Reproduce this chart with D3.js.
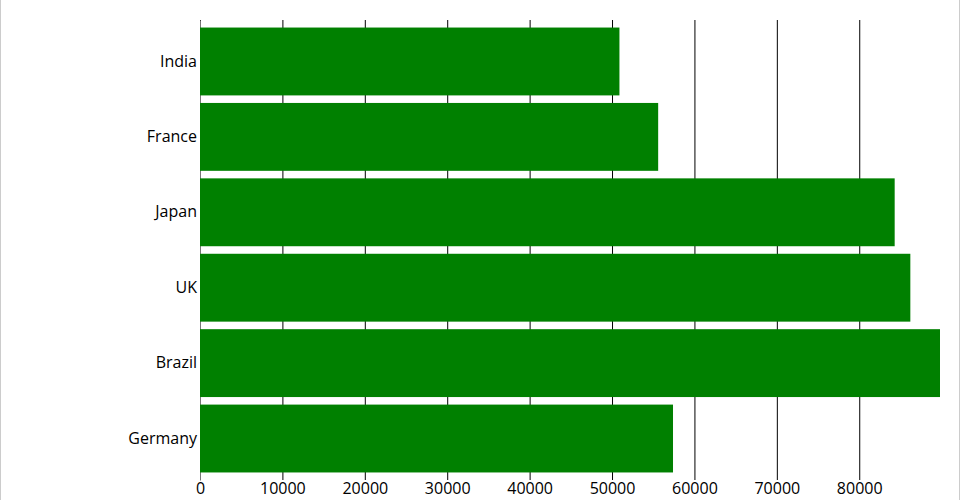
<!DOCTYPE html>
<html>
<head>
<meta charset="utf-8">
<script src="https://cdn.jsdelivr.net/npm/d3@7"></script>
<style>
  html, body { margin: 0; padding: 0; background: #fff; }
  #wrap { position: relative; width: 960px; height: 500px; }
  #frame { position: absolute; left: 0; top: 0; width: 958px; height: 500px;
           border-left: 1px solid #ccc; border-right: 1px solid #ccc; pointer-events: none; }
  svg { display: block; font-family: "Open Sans", sans-serif; }
</style>
</head>
<body>
<div id="wrap"><svg id="chart" width="960" height="500"></svg><div id="frame"></div></div>
<script>
const countries = ["India", "France", "Japan", "UK", "Brazil", "Germany"];
const values = [50900, 55600, 84300, 86200, 89800, 57400];
const xTicks = [0, 10000, 20000, 30000, 40000, 50000, 60000, 70000, 80000];

const margin = {top: 20, right: 20, bottom: 20, left: 200};
const width = 960 - margin.left - margin.right;
const height = 500 - margin.top - margin.bottom;

const data = countries.map((c, i) => ({country: c, value: values[i]}));

const svg = d3.select("#chart");
const g = svg.append("g").attr("transform", `translate(${margin.left},${margin.top})`);

const x = d3.scaleLinear().domain([0, d3.max(values)]).range([0, width]);
const y = d3.scaleBand().domain(countries).range([0, height]).padding(0.1);

const xAxis = g.append("g")
  .attr("transform", `translate(0,${height})`)
  .call(d3.axisBottom(x).tickValues(xTicks).tickFormat(d3.format("d")).tickSize(-height));
xAxis.select(".domain").remove();
xAxis.selectAll("text").attr("font-size", 16).attr("font-family", "Open Sans, sans-serif");

const yAxis = g.append("g")
  .call(d3.axisLeft(y).tickSize(0).tickPadding(3));
yAxis.select(".domain").attr("stroke", "#777");
yAxis.selectAll("text").attr("font-size", 16).attr("font-family", "Open Sans, sans-serif");

g.selectAll("rect.bar")
  .data(data)
  .join("rect")
  .attr("class", "bar")
  .attr("x", 0)
  .attr("y", d => y(d.country))
  .attr("width", d => x(d.value))
  .attr("height", y.bandwidth())
  .attr("fill", "#008000");
</script>
</body>
</html>
